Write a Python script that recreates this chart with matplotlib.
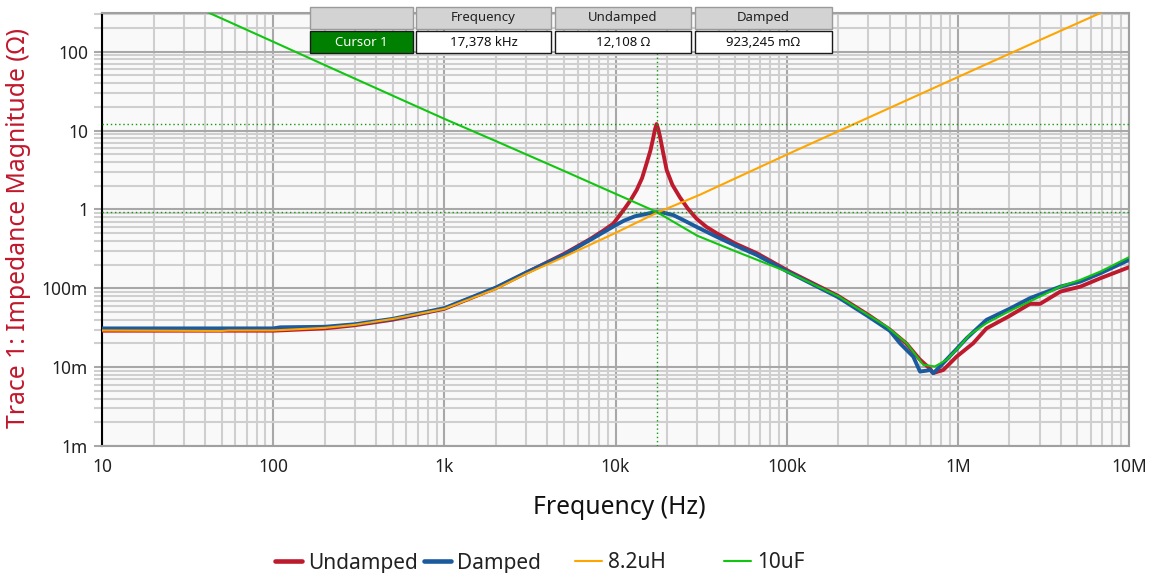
import numpy as np
import matplotlib.pyplot as plt
from matplotlib.patches import Rectangle
from matplotlib.lines import Line2D
from matplotlib.ticker import FixedLocator, LogLocator, NullFormatter

plt.rcParams['font.family'] = ['Noto Sans', 'DejaVu Sans']

# impedance curves (Hz, Ohm)
freq_undamped = [10, 50, 100, 200, 300, 500, 1e3, 2e3, 3e3, 5e3, 7.1e3, 8.5e3, 9.7e3,
                 10.6e3, 11.4e3, 12.3e3, 13.3e3, 14.3e3, 15.2e3, 16e3, 16.6e3, 17e3,
                 17.378e3, 17.8e3, 18.2e3, 19e3, 19.9e3, 21.5e3, 23.8e3, 26.5e3, 29.8e3,
                 34e3, 39e3, 50e3, 66.8e3, 104e3, 200e3, 300e3, 400e3, 500e3, 600e3,
                 690e3, 716e3, 822e3, 984e3, 1.23e6, 1.47e6, 2e6, 2.64e6, 3.02e6, 3.97e6,
                 5.2e6, 6.8e6, 10e6]
z_undamped = [0.029, 0.029, 0.029, 0.031, 0.034, 0.040, 0.055, 0.101, 0.157, 0.273, 0.42,
              0.54, 0.66, 0.85, 1.05, 1.33, 1.77, 2.5, 3.85, 5.6, 8.0, 10.3, 12.108, 10.3,
              8.37, 5.2, 3.16, 2.05, 1.42, 1.02, 0.76, 0.6, 0.499, 0.37, 0.279, 0.163,
              0.080, 0.046, 0.030, 0.020, 0.0125, 0.0095, 0.0084, 0.0092, 0.0136, 0.0201,
              0.031, 0.0445, 0.0635, 0.0634, 0.0908, 0.105, 0.134, 0.185]

freq_damped = [10, 100, 110, 200, 300, 500, 1e3, 2e3, 3e3, 5e3, 7.1e3, 10e3, 11.2e3,
               13e3, 16e3, 17.378e3, 19e3, 21.7e3, 25e3, 29.8e3, 39e3, 50e3, 66.8e3,
               100e3, 200e3, 300e3, 400e3, 459e3, 549e3, 601e3, 650e3, 690e3, 720e3,
               787e3, 984e3, 1.127e6, 1.47e6, 2e6, 2.64e6, 3.97e6, 5.2e6, 6.8e6, 10e6]
z_damped = [0.031, 0.031, 0.032, 0.0325, 0.035, 0.041, 0.056, 0.102, 0.158, 0.265, 0.41,
            0.63, 0.72, 0.82, 0.90, 0.923, 0.91, 0.85, 0.73, 0.60, 0.45, 0.35, 0.265,
            0.165, 0.077, 0.044, 0.029, 0.0201, 0.0136, 0.0088, 0.0090, 0.0092, 0.0084,
            0.0102, 0.0170, 0.0233, 0.0398, 0.0548, 0.075, 0.105, 0.1216, 0.155, 0.229]

freq_ind = [10, 50, 55, 100, 200, 300, 500, 1e3, 2e3, 3e3, 5e3, 10e3, 17.378e3, 31e3,
            104e3, 300e3, 1e6, 3e6, 10e6]
z_ind = [0.0292, 0.0288, 0.0292, 0.0292, 0.0315, 0.0344, 0.0409, 0.0548, 0.098, 0.152,
         0.25, 0.504, 0.904, 1.53, 5.15, 14.6, 47.7, 140, 450]

freq_cap = [10, 20, 50, 100, 200, 500, 1e3, 2e3, 5e3, 10e3, 17.378e3, 30e3, 50e3, 100e3,
            200e3, 300e3, 384e3, 502e3, 628e3, 735e3, 861e3, 1.02e6, 1.17e6, 1.47e6,
            1.98e6, 3.02e6, 3.97e6, 5.2e6, 6.8e6, 10e6]
z_cap = [1268, 644, 264, 134, 67.8, 27.7, 14.1, 7.36, 3.08, 1.58, 0.93, 0.465, 0.296,
         0.163, 0.0794, 0.0457, 0.0327, 0.0201, 0.0107, 0.0102, 0.0124, 0.0182, 0.0257,
         0.0361, 0.0507, 0.0785, 0.105, 0.128, 0.163, 0.248]

cursor_freq = 17378
cursor_undamped = 12.108
cursor_damped = 0.923245

y_ticks = [1e-3, 1e-2, 1e-1, 1, 10, 100]
y_labels = ['1m', '10m', '100m', '1', '10', '100']
x_ticks = [10, 100, 1e3, 1e4, 1e5, 1e6, 1e7]
x_labels = ['10', '100', '1k', '10k', '100k', '1M', '10M']

W, H = 1149, 573
fig = plt.figure(figsize=(W / 100, H / 100), dpi=100)
ax = fig.add_axes([102 / W, 1 - 446 / H, 1027 / W, 433 / H])
ax.set_facecolor('#f9f9f9')
ax.set_xscale('log')
ax.set_yscale('log')
ax.set_xlim(10, 1e7)
ax.set_ylim(1e-3, 310)

ax.plot(freq_undamped, z_undamped, color='#bd1a2e', lw=2.8, zorder=3)
ax.plot(freq_damped, z_damped, color='#1c5a9e', lw=2.8, zorder=4)
ax.plot(freq_ind, z_ind, color='#ffa500', lw=1.5, zorder=5)
ax.plot(freq_cap, z_cap, color='#11c611', lw=1.5, zorder=6)

# cursor markers
ax.axvline(cursor_freq, color='#109a10', lw=1, ls=(0, (1, 2)), zorder=7)
ax.axhline(cursor_undamped, color='#109a10', lw=1, ls=(0, (1, 2)), zorder=7)
ax.axhline(cursor_damped, color='#109a10', lw=1, ls=(0, (1, 2)), zorder=7)

ax.xaxis.set_major_locator(FixedLocator(x_ticks))
ax.set_xticklabels(x_labels)
ax.xaxis.set_minor_locator(LogLocator(base=10, subs=np.arange(2, 10), numticks=20))
ax.xaxis.set_minor_formatter(NullFormatter())
ax.yaxis.set_major_locator(FixedLocator(y_ticks))
ax.set_yticklabels(y_labels)
ax.yaxis.set_minor_locator(LogLocator(base=10, subs=np.arange(2, 10), numticks=20))
ax.yaxis.set_minor_formatter(NullFormatter())

ax.grid(True, which='major', color='#a8a8a8', lw=1.5, zorder=0)
ax.grid(True, which='minor', color='#cfcfcf', lw=1.5, zorder=0)
ax.set_axisbelow(True)

ax.tick_params(axis='x', which='both', length=0, pad=9, labelsize=12.5, colors='#222222')
ax.tick_params(axis='y', which='major', length=6, width=1.5, color='#a8a8a8', pad=4,
               labelsize=12.5, labelcolor='#222222')
ax.tick_params(axis='y', which='minor', length=6, width=1.5, color='#cfcfcf')

for side in ['top', 'right', 'bottom']:
    ax.spines[side].set_color('#a0a0a0')
    ax.spines[side].set_linewidth(1.5)
ax.spines['left'].set_color('black')
ax.spines['left'].set_linewidth(1.5)

fig.text(19 / W, 1 - 228 / H, 'Trace 1: Impedance Magnitude (Ω)', rotation=90,
         ha='center', va='center', fontsize=17.8, color='#c0182c')
fig.text(619 / W, 1 - 507 / H, 'Frequency (Hz)', ha='center', va='center',
         fontsize=17.8, color='#111111')

# cursor read-out table
def cell(x0, x1, y0, y1, face, edge, text, tcolor):
    fig.patches.append(Rectangle((x0 / W, 1 - y1 / H), (x1 - x0) / W, (y1 - y0) / H,
                                 transform=fig.transFigure, facecolor=face, edgecolor=edge,
                                 lw=1, zorder=10))
    if text:
        fig.text((x0 + x1) / 2 / W, 1 - (y0 + y1) / 2 / H, text, ha='center', va='center',
                 fontsize=9.5, color=tcolor, zorder=11)

cols = [(310, 413), (416, 551), (555, 691), (695, 832)]
headers = ['', 'Frequency', 'Undamped', 'Damped']
values = ['Cursor 1', '17,378 kHz', '12,108 Ω', '923,245 mΩ']
for i, (c0, c1) in enumerate(cols):
    cell(c0, c1, 7, 29, '#d3d3d3', '#9a9a9a', headers[i], '#222222')
    if i == 0:
        cell(c0, c1, 31, 53, '#008000', '#1a1a1a', values[i], 'white')
    else:
        cell(c0, c1, 31, 53, 'white', '#1a1a1a', values[i], '#111111')

# legend, four evenly spaced entries
names = ['Undamped', 'Damped', '8.2uH', '10uF']
colors = ['#bd1a2e', '#1c5a9e', '#ffa500', '#11c611']
widths = [3.3, 3.3, 1.5, 1.5]
starts = [275, 424, 575, 724]
for n, c, w, s in zip(names, colors, widths, starts):
    leg = fig.legend([Line2D([0], [0], color=c, lw=w, solid_capstyle='round')], [n],
                     loc='center left', bbox_to_anchor=(s / W, 1 - 563 / H),
                     frameon=False, fontsize=15, handlelength=1.3, handletextpad=0.3,
                     borderaxespad=0, borderpad=0)
    for t in leg.get_texts():
        t.set_color('#222222')

fig.savefig('out.png', dpi=100)
